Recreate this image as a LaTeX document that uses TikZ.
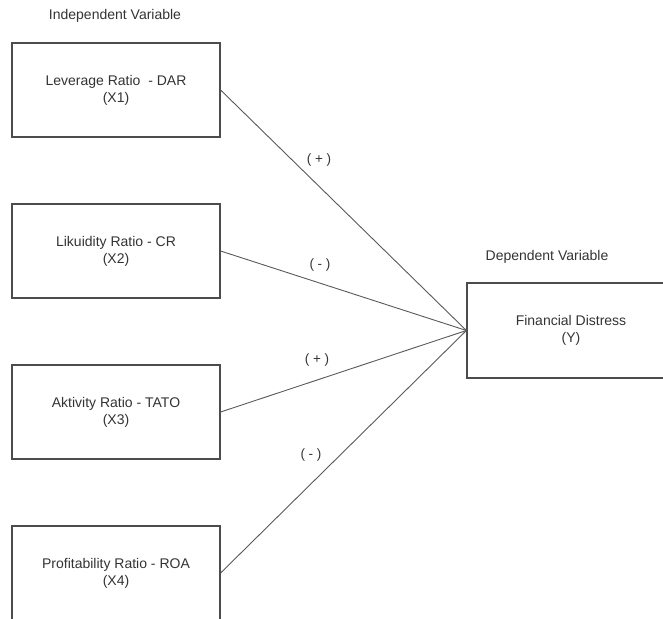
\documentclass[tikz,border=0pt]{standalone}
\usepackage{fontspec}
\setmainfont{Liberation Sans}
\begin{document}
\begin{tikzpicture}[x=1pt,y=-1pt,
  varbox/.style={draw=black!70,line width=1.2pt,minimum width=208pt,minimum height=94pt,
    align=center,text=black!80,font=\fontsize{14}{17}\selectfont,inner sep=0pt},
  ybox/.style={varbox,minimum height=95pt},
  conn/.style={draw=black!65,line width=0.9pt},
  sign/.style={text=black!80,font=\fontsize{13.5}{14}\selectfont},
  head/.style={text=black!80,font=\fontsize{14}{16}\selectfont}]
\useasboundingbox (0,0) rectangle (663,618);
\clip (0,0) rectangle (663,618);
\node[head] (hi) at (115,16) {Independent Variable};
\node[head] (hd) at (547,257) {Dependent Variable};
\node[varbox] (b1) at (116,90) {Leverage Ratio\ \ - DAR\\(X1)};
\node[varbox] (b2) at (116,251) {Likuidity Ratio - CR\\(X2)};
\node[varbox] (b3) at (116,412) {Aktivity Ratio - TATO\\(X3)};
\node[varbox] (b4) at (116,573) {Profitability Ratio - ROA\\(X4)};
\node[ybox] (y) at (571,330.5) {Financial Distress\\(Y)};
\draw[conn] (b1.east) -- (y.west);
\draw[conn] (b2.east) -- (y.west);
\draw[conn] (b3.east) -- (y.west);
\draw[conn] (b4.east) -- (y.west);
\node[sign] (s1) at (319,160) {( + )};
\node[sign] (s2) at (320,265) {( - )};
\node[sign] (s3) at (317,360) {( + )};
\node[sign] (s4) at (311,455) {( - )};
\end{tikzpicture}
\end{document}
